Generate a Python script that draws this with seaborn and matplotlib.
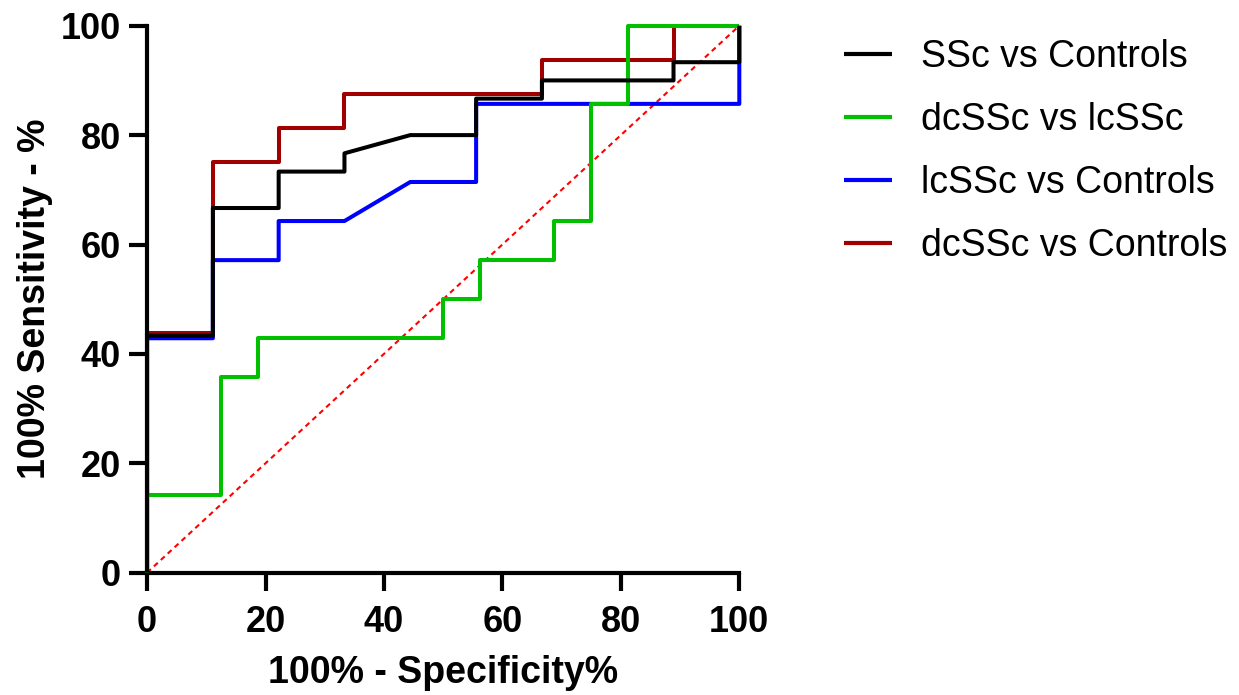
import matplotlib
matplotlib.use("Agg")
import matplotlib.pyplot as plt
import seaborn as sns
import pandas as pd

sns.set_theme(style="white")
plt.rcParams['font.family'] = ['Liberation Sans', 'DejaVu Sans']
plt.rcParams['text.color'] = 'black'
plt.rcParams['axes.labelcolor'] = 'black'
plt.rcParams['xtick.color'] = 'black'
plt.rcParams['ytick.color'] = 'black'

# ROC curve vertices (100% - Specificity%, Sensitivity%)
ssc_ctrl_x = [0, 0, 11.11, 11.11, 22.22, 22.22, 33.33, 33.33, 44.44, 55.56, 55.56, 66.67, 66.67, 88.89, 88.89, 100, 100]
ssc_ctrl_y = [0, 43.33, 43.33, 66.67, 66.67, 73.33, 73.33, 76.67, 80, 80, 86.67, 86.67, 90, 90, 93.33, 93.33, 100]

dc_lc_x = [0, 0, 12.5, 12.5, 18.75, 18.75, 50, 50, 56.25, 56.25, 68.75, 68.75, 75, 75, 81.25, 81.25, 100]
dc_lc_y = [0, 14.29, 14.29, 35.71, 35.71, 42.86, 42.86, 50, 50, 57.14, 57.14, 64.29, 64.29, 85.71, 85.71, 100, 100]

lc_ctrl_x = [0, 0, 11.11, 11.11, 22.22, 22.22, 33.33, 44.44, 55.56, 55.56, 100, 100]
lc_ctrl_y = [0, 42.86, 42.86, 57.14, 57.14, 64.29, 64.29, 71.43, 71.43, 85.71, 85.71, 100]

dc_ctrl_x = [0, 0, 11.11, 11.11, 22.22, 22.22, 33.33, 33.33, 66.67, 66.67, 88.89, 88.89, 100]
dc_ctrl_y = [0, 43.75, 43.75, 75, 75, 81.25, 81.25, 87.5, 87.5, 93.75, 93.75, 100, 100]

chance_x = [0, 100]
chance_y = [0, 100]

labels = ["SSc vs Controls", "dcSSc vs lcSSc", "lcSSc vs Controls", "dcSSc vs Controls"]
colors = ["#000000", "#00C000", "#0000FF", "#A00000"]
series = [(ssc_ctrl_x, ssc_ctrl_y), (dc_lc_x, dc_lc_y), (lc_ctrl_x, lc_ctrl_y), (dc_ctrl_x, dc_ctrl_y)]

fig = plt.figure(figsize=(12.39, 6.95), dpi=100)
ax = fig.add_axes([0.1187, 0.176, 0.478, 0.787])

sns.lineplot(x=chance_x, y=chance_y, ax=ax, color="#FF0000", linestyle=(0, (2.5, 2)),
             linewidth=1.5, estimator=None, sort=False, zorder=1)

# draw in reverse legend order so black ends on top
for i in reversed(range(len(series))):
    xs, ys = series[i]
    df = pd.DataFrame({"x": xs, "y": ys})
    sns.lineplot(data=df, x="x", y="y", ax=ax, color=colors[i], linewidth=2.9,
                 estimator=None, sort=False, label=labels[i], zorder=2 + (3 - i))

for line in ax.get_lines():
    line.set_clip_on(False)
    line.set_solid_capstyle('butt')

ax.set_xlim(0, 100)
ax.set_ylim(0, 100)
ax.set_xticks([0, 20, 40, 60, 80, 100])
ax.set_yticks([0, 20, 40, 60, 80, 100])
for s in ["top", "right"]:
    ax.spines[s].set_visible(False)
for s in ["left", "bottom"]:
    ax.spines[s].set_linewidth(3)
    ax.spines[s].set_color("black")
ax.tick_params(axis="both", which="major", direction="out", length=13, width=3,
               color="black", labelsize=26, left=True, bottom=True)
ax.tick_params(axis="x", pad=10)
ax.tick_params(axis="y", pad=6)
for lab in ax.get_xticklabels() + ax.get_yticklabels():
    lab.set_fontweight("bold")

ax.set_xlabel("100% - Specificity%", fontsize=27, fontweight="bold", labelpad=11)
ax.set_ylabel("100% Sensitivity - %", fontsize=27, fontweight="bold", labelpad=5)

handles, labs = ax.get_legend_handles_labels()
order = [labs.index(l) for l in labels]
leg = ax.legend([handles[k] for k in order], [labs[k] for k in order],
                loc="upper left", bbox_to_anchor=(0.672, 0.960), bbox_transform=fig.transFigure,
                frameon=False, fontsize=27, handlelength=1.28, handletextpad=0.77,
                labelspacing=0.72, borderaxespad=0, borderpad=0.3)
for h in leg.get_lines():
    h.set_linewidth(3)

fig.savefig("out.png", dpi=100)
